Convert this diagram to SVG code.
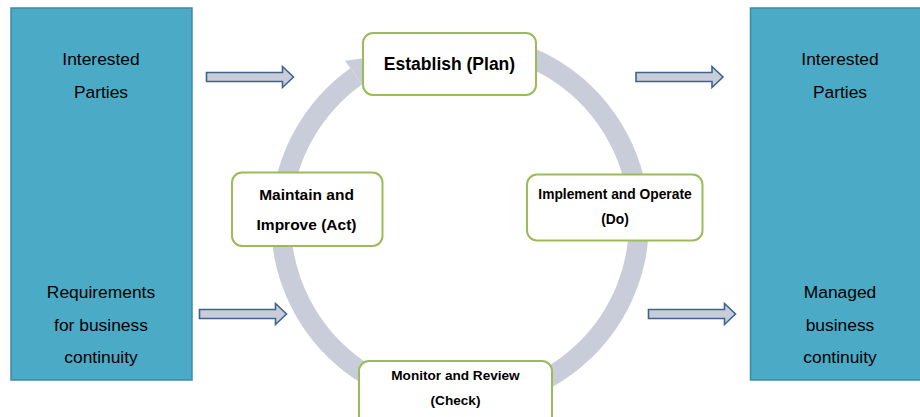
<svg xmlns="http://www.w3.org/2000/svg" width="920" height="417" viewBox="0 0 920 417">
<defs>
<style>
.blue{fill:#4BAAC6;stroke:#3A8CA4;stroke-width:1.5}
.step{fill:#FFFFFF;stroke:#9BBB59;stroke-width:2}
.bt{font-family:"Liberation Sans",Arial,sans-serif;font-size:17.4px;fill:#000;text-anchor:middle}
.st{font-family:"Liberation Sans",Arial,sans-serif;font-weight:bold;fill:#000;text-anchor:middle}
.ring{fill:none;stroke:#C9CDD9;stroke-width:20}
.ringhead{fill:#C9CDD9}
.blk{fill:#C9CDD9;stroke:#3E6391;stroke-width:1.6}
</style>
<path id="blockArrow" d="M0,-4.5 H76 V-10.5 L87,0 L76,10.5 V4.5 H0 Z"/>
</defs>
<rect width="920" height="417" fill="#FFFFFF"/>
<g id="connectors">
<path class="ring" d="M475.6,43.7 A179,179 0 1 1 356.1,76.3"/>
<polygon class="ringhead" points="345,60.8 398.8,53.8 367.1,91.7"/>
<use href="#blockArrow" class="blk" transform="translate(206.5,77)"/>
<use href="#blockArrow" class="blk" transform="translate(199.5,314)"/>
<use href="#blockArrow" class="blk" transform="translate(636,77)"/>
<use href="#blockArrow" class="blk" transform="translate(648.5,314)"/>
</g>
<g id="left-box">
<rect class="blue" x="11" y="8" width="181" height="372"/>
<text class="bt" x="101" y="65">Interested</text>
<text class="bt" x="101" y="97.5">Parties</text>
<text class="bt" x="101" y="298">Requirements</text>
<text class="bt" x="101" y="330.5">for business</text>
<text class="bt" x="101" y="363">continuity</text>
</g>
<g id="right-box">
<rect class="blue" x="750.5" y="8" width="180" height="372"/>
<text class="bt" x="840" y="65">Interested</text>
<text class="bt" x="840" y="97.5">Parties</text>
<text class="bt" x="840" y="298">Managed</text>
<text class="bt" x="840" y="330.5">business</text>
<text class="bt" x="840" y="363">continuity</text>
</g>
<g id="establish">
<rect class="step" x="363" y="33" width="173" height="62" rx="10"/>
<text class="st" x="449.5" y="69.5" font-size="17.5">Establish (Plan)</text>
</g>
<g id="implement">
<rect class="step" x="527" y="174.5" width="175.5" height="66" rx="10"/>
<text class="st" x="615" y="198.5" font-size="13.8">Implement and Operate</text>
<text class="st" x="615" y="224" font-size="13.8">(Do)</text>
</g>
<g id="monitor">
<rect class="step" x="359" y="361" width="193" height="66" rx="10"/>
<text class="st" x="455.5" y="379.5" font-size="13.6">Monitor and Review</text>
<text class="st" x="455.5" y="404.5" font-size="13.6">(Check)</text>
</g>
<g id="maintain">
<rect class="step" x="232" y="172.5" width="150.5" height="73.5" rx="10"/>
<text class="st" x="306.5" y="199.5" font-size="15.5">Maintain and</text>
<text class="st" x="306.5" y="229.5" font-size="15.5">Improve (Act)</text>
</g>
</svg>
